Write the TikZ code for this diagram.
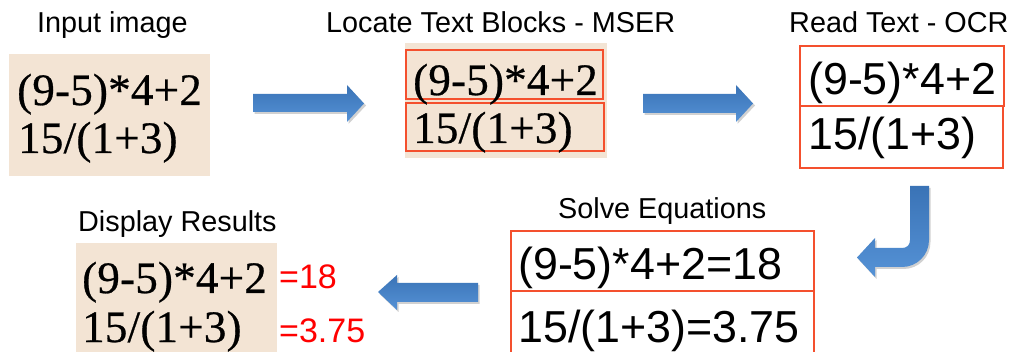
\documentclass[tikz,border=0pt]{standalone}
\usepackage{fontspec}
\setsansfont{Liberation Sans}
\newfontfamily\serifeq{Liberation Serif}[FakeBold=0.6,LetterSpace=0.5]
\usetikzlibrary{shadings}
\definecolor{beige}{HTML}{F3E4D4}
\definecolor{boxred}{HTML}{F4502E}
\definecolor{arrtop}{HTML}{3A73B6}
\definecolor{arrbot}{HTML}{5592D6}
\tikzset{
  title/.style={anchor=base west,inner sep=0,font=\sffamily\fontsize{28.8}{30}\selectfont},
  sereq/.style={anchor=base west,inner sep=0,font=\serifeq\fontsize{45}{47}\selectfont},
  sanseq/.style={anchor=base west,inner sep=0,font=\sffamily\fontsize{44.8}{46}\selectfont},
  reseq/.style={anchor=base west,inner sep=0,text=red,font=\sffamily\fontsize{34}{36}\selectfont},
  bg/.style={fill=beige,draw=none},
  redbox/.style={draw=boxred,line width=1.4pt},
  arrowfill/.style={top color=arrtop,bottom color=arrbot,draw=none},
  arrowshadow/.style={fill=black,opacity=0.18,draw=none}
}
\begin{document}
\begin{tikzpicture}[x=1pt,y=-1pt]
\useasboundingbox (0,0) rectangle (1027,352);
\clip (0,0) rectangle (1027,352);
\fill[white] (0,0) rectangle (1027,352);

% ---------- titles
\node[title] (t1) at (37,33) {Input image};
\node[title] (t2) at (326,33) {Locate Text Blocks - MSER};
\node[title] (t3) at (789,33) {Read Text - OCR};
\node[title] (t5) at (558,219) {Solve Equations};
\node[title] (t6) at (78,232) {Display Results};

% ---------- box 1: input image
\path[bg] (9,54) rectangle (210,176);
\node[sereq] (i1) at (17,105) {(9-5)*4+2};
\node[sereq] (i2) at (18,153) {15/(1+3)};

% ---------- box 2: MSER
\path[bg] (405,43) rectangle (607,158);
\draw[redbox] (406,50) rectangle (603,99);
\draw[redbox] (406,103) rectangle (604,151);
\node[sereq] (m1) at (413,95) {(9-5)*4+2};
\node[sereq] (m2) at (413,143) {15/(1+3)};

% ---------- box 3: OCR
\draw[redbox] (800,46) rectangle (1004,106);
\draw[redbox] (800,106) rectangle (1003,168);
\node[sanseq] (o1) at (808,95) {(9-5)*4+2};
\node[sanseq] (o2) at (808,150) {15/(1+3)};

% ---------- box 5: solve
\draw[redbox] (511,231) rectangle (814,291);
\draw[redbox] (511,291) rectangle (814,370);
\node[sanseq] (s1) at (518,280) {(9-5)*4+2=18};
\node[sanseq] (s2) at (518,342) {15/(1+3)=3.75};

% ---------- box 6: display
\path[bg] (76,243) rectangle (277,370);
\node[sereq] (d1) at (82,293) {(9-5)*4+2};
\node[sereq] (d2) at (82,342) {15/(1+3)};
\node[reseq] (r1) at (279,289) {=18};
\node[reseq] (r2) at (279,342) {=3.75};

% ---------- arrows
% arrow 1
\path[arrowshadow] (254.5,96) -- (348.5,96) -- (348.5,87) -- (366,105.5) -- (348.5,124) -- (348.5,114) -- (254.5,114) -- cycle;
\path[arrowfill] (253,94) -- (347,94) -- (347,85) -- (364,103.5) -- (347,122) -- (347,112) -- (253,112) -- cycle;
% arrow 2
\path[arrowshadow] (644.5,96) -- (737.5,96) -- (737.5,87) -- (755,105.5) -- (737.5,124) -- (737.5,115) -- (644.5,115) -- cycle;
\path[arrowfill] (643,94) -- (736,94) -- (736,85) -- (753,103.5) -- (736,122) -- (736,113) -- (643,113) -- cycle;
% arrow 3 (curved)
\path[arrowshadow] (911.5,188) -- (930.5,188) -- (930.5,242)
  .. controls (930.5,257) and (918.5,269) .. (903.5,269) -- (876.5,269) -- (876.5,279)
  -- (858.5,259.5) -- (876.5,240) -- (876.5,250) -- (903.5,250)
  .. controls (908.5,250) and (911.5,247) .. (911.5,242) -- cycle;
\path[arrowfill] (910,186) -- (929,186) -- (929,240)
  .. controls (929,255) and (917,267) .. (902,267) -- (875,267) -- (875,277)
  -- (857,257.5) -- (875,238) -- (875,248) -- (902,248)
  .. controls (907,248) and (910,245) .. (910,240) -- cycle;
% arrow 4 (left)
\path[arrowshadow] (379.5,294) -- (398.5,277) -- (398.5,285) -- (479.5,285) -- (479.5,304) -- (398.5,304) -- (398.5,312) -- cycle;
\path[arrowfill] (378,292) -- (397,275) -- (397,283) -- (478,283) -- (478,302) -- (397,302) -- (397,310) -- cycle;
\end{tikzpicture}
\end{document}
